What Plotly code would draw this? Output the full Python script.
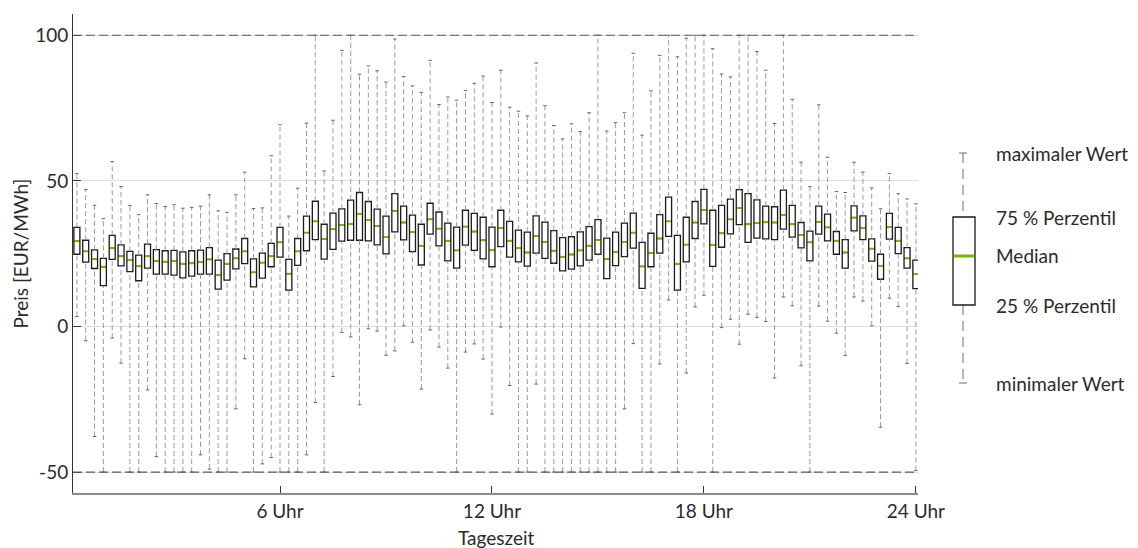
import plotly.graph_objects as go

# Viertelstunden des Tages (0:15 ... 24:00) in Stunden
viertelstunde = [i / 4 for i in range(1, 97)]

# Kennwerte je Viertelstunde in EUR/MWh
minimum = [3.4, -4.9, -37.8, -50, -4.0, -12.6, -50, -50, -21.8, -44.7, -50, -50,
           -50, -50, -44.1, -49.0, -50, -50, -28.3, -11.1, -50, -47.2, -45.0, -50,
           -50, -50, -44.1, -26.1, -50, -17.2, -2.1, -3.6, -26.9, -0.8, -1.6, -9.9,
           -8.4, 0.2, -5.4, -21.5, -1.2, -7.1, -14.3, -50, -8.8, -6.0, -11.2, -30.1,
           -0.2, -20.3, -50, -50, -19.8, -50, -50, -50, -50, -50, -50, -50,
           -50, -50, -28.3, -5.9, -50, -50, -12.9, 9.1, -50, -16.0, 6.7, 10.7,
           -50, -0.4, 2.5, -6.1, 4.2, 3.1, 1.7, -17.7, 10.1, 7.1, -13.5, -50,
           7.0, 1.8, -2.3, -10.0, 10.1, 8.7, 0.2, -34.6, 9.7, 6.8, -12.7, -49.5]
q1 = [24.8, 22.1, 19.9, 14.0, 23.0, 20.8, 18.8, 15.7, 20.0, 18.0, 18.0, 17.6,
      16.7, 17.3, 18.0, 18.0, 12.8, 15.9, 19.8, 21.6, 13.6, 16.6, 20.5, 23.8,
      12.5, 21.0, 26.0, 29.8, 23.1, 26.5, 29.3, 29.6, 29.6, 29.4, 28.0, 24.9,
      32.5, 29.7, 25.7, 21.1, 31.7, 27.7, 22.5, 20.0, 27.9, 26.1, 23.2, 20.5,
      27.4, 23.8, 22.2, 20.7, 25.2, 23.4, 21.7, 19.1, 19.7, 20.8, 22.8, 24.8,
      16.4, 20.9, 24.0, 26.9, 13.1, 20.5, 25.2, 30.9, 12.5, 22.2, 30.2, 35.2,
      20.6, 27.2, 31.8, 35.0, 28.9, 30.3, 30.1, 29.8, 33.4, 30.7, 27.0, 22.5,
      31.7, 29.4, 24.8, 20.0, 32.8, 29.8, 22.4, 16.2, 30.0, 25.0, 20.0, 13.0]
median = [29.3, 25.8, 23.1, 20.5, 26.9, 24.1, 22.8, 20.7, 24.1, 22.4, 22.2, 22.5,
          21.5, 21.7, 22.1, 23.0, 17.6, 21.5, 23.4, 25.8, 18.6, 21.9, 24.1, 28.9,
          18.1, 25.8, 32.2, 36.1, 30.0, 33.4, 34.8, 35.2, 38.6, 36.6, 34.5, 30.7,
          39.7, 35.7, 32.4, 27.7, 36.8, 33.6, 29.4, 26.1, 34.3, 32.6, 29.6, 26.2,
          33.8, 29.4, 26.9, 25.4, 31.0, 29.0, 26.0, 23.9, 24.7, 26.1, 27.7, 29.7,
          23.1, 25.5, 29.0, 32.2, 20.6, 25.2, 30.2, 36.1, 21.5, 28.1, 35.7, 40.0,
          28.0, 32.0, 36.8, 40.7, 35.1, 35.5, 35.8, 35.7, 38.3, 35.1, 31.4, 28.9,
          35.9, 34.0, 29.4, 25.4, 37.4, 33.8, 26.7, 20.8, 34.1, 29.4, 23.4, 18.0]
q3 = [34.0, 29.6, 26.3, 23.4, 31.3, 28.0, 25.8, 24.5, 28.3, 26.4, 26.0, 26.1,
      25.6, 26.0, 26.2, 27.1, 22.8, 25.0, 26.6, 30.2, 23.2, 25.2, 28.5, 34.0,
      23.0, 30.2, 37.9, 43.0, 35.1, 38.9, 40.4, 43.4, 46.0, 42.9, 40.3, 37.9,
      45.6, 41.3, 38.2, 35.1, 42.3, 39.3, 35.5, 34.1, 39.9, 38.8, 37.5, 34.1,
      39.9, 36.1, 33.1, 32.4, 38.0, 35.8, 32.9, 30.5, 30.8, 32.5, 34.3, 36.7,
      30.3, 32.4, 35.5, 38.9, 28.9, 32.0, 38.4, 44.4, 31.3, 37.5, 42.9, 47.1,
      39.9, 41.6, 43.7, 47.0, 45.6, 43.5, 41.3, 41.1, 46.8, 41.6, 35.7, 32.7,
      41.3, 38.6, 32.6, 29.8, 41.4, 38.0, 30.1, 24.8, 38.8, 34.0, 27.1, 22.8]
maximum = [52.5, 47.0, 41.6, 37.0, 56.6, 48.0, 41.5, 38.4, 45.2, 42.2, 41.2, 41.8,
           40.6, 40.9, 41.3, 45.2, 39.7, 39.2, 45.2, 53.0, 40.5, 40.7, 58.6, 69.3,
           37.9, 47.5, 69.8, 100, 53.4, 70.8, 94.8, 100, 86.6, 89.5, 87.8, 83.9,
           98.7, 85.8, 82.6, 80.4, 91.4, 76.2, 78.8, 77.7, 81.0, 83.5, 86.0, 76.9,
           88.0, 75.3, 73.9, 72.3, 90.5, 75.8, 69.0, 64.4, 69.6, 66.9, 73.4, 100,
           67.1, 70.0, 73.4, 93.8, 65.7, 80.9, 93.1, 100, 92.6, 99.0, 100, 100,
           95.4, 86.7, 85.7, 100, 100, 94.4, 88.0, 69.7, 100, 78.0, 56.4, 48.0,
           76.1, 58.1, 46.3, 46.0, 56.4, 53.0, 47.6, 40.4, 52.5, 45.6, 43.8, 42.1]

# Preisgrenzen (gestrichelte Linien)
preisgrenzen = [-50, 100]

y_ticks = [-50, 0, 50, 100]
y_ticktext = ["-50", "0", "50", "100"]
x_ticks = [6, 12, 18, 24]
x_ticktext = ["6 Uhr", "12 Uhr", "18 Uhr", "24 Uhr"]

legend_labels = ["maximaler Wert", "75 % Perzentil", "Median",
                 "25 % Perzentil", "minimaler Wert"]

FONT = "Lato"
FS = 19
TEXT = "#2b2b2b"
GREEN = "#76b900"
WHISKER = "#9a9a9a"

fig = go.Figure()

# Whisker: vom Minimum zum 25-%-Perzentil und vom 75-%-Perzentil zum Maximum
wx, wy = [], []
for h, lo, a, b, hi in zip(viertelstunde, minimum, q1, q3, maximum):
    wx += [h, h, None, h, h, None]
    wy += [lo, a, None, b, hi, None]
fig.add_trace(go.Scatter(
    x=wx, y=wy, mode="lines",
    line=dict(color=WHISKER, width=1, dash="5px,3px"),
    hoverinfo="skip", showlegend=False))

# Endstriche der Whisker
fig.add_trace(go.Scatter(
    x=viertelstunde + viertelstunde, y=minimum + maximum, mode="markers",
    marker=dict(symbol="line-ew", size=2.5, color="#666",
                line=dict(color="#666", width=1)),
    hoverinfo="skip", showlegend=False))

# Boxen (Interquartilsabstand)
fig.add_trace(go.Box(
    x=viertelstunde, q1=q1, median=median, q3=q3,
    lowerfence=q1, upperfence=q3,
    width=0.17, whiskerwidth=0, boxpoints=False,
    fillcolor="white", line=dict(color="#1a1a1a", width=1.3),
    hoverinfo="skip", showlegend=False))

# Median in Grün
fig.add_trace(go.Scatter(
    x=viertelstunde, y=median, mode="markers",
    marker=dict(symbol="line-ew", size=3.2, color=GREEN,
                line=dict(color=GREEN, width=2)),
    hoverinfo="skip", showlegend=False))

shapes = []
for g in preisgrenzen:
    shapes.append(dict(type="line", xref="paper", yref="y", x0=0, x1=1,
                       y0=g, y1=g, layer="above",
                       line=dict(color="#5a5a5a", width=1.2, dash="9px,4px")))

# Legende: schematische Box rechts neben dem Diagramm
def px_x(px):
    return (px - 73) / 845

def px_y(py):
    return (493 - py) / 479

lx, lx0, lx1 = 963, 953, 975
y_max, y_q3, y_med, y_q1, y_min = 153, 217, 256, 305, 383
shapes += [
    dict(type="line", xref="paper", yref="paper", x0=px_x(lx), x1=px_x(lx),
         y0=px_y(y_max), y1=px_y(y_q3),
         line=dict(color="#6a6a6a", width=1, dash="10px,6px")),
    dict(type="line", xref="paper", yref="paper", x0=px_x(lx), x1=px_x(lx),
         y0=px_y(y_q1), y1=px_y(y_min),
         line=dict(color="#6a6a6a", width=1, dash="10px,6px")),
    dict(type="line", xref="paper", yref="paper", x0=px_x(lx - 4), x1=px_x(lx + 4),
         y0=px_y(y_max), y1=px_y(y_max), line=dict(color="#6a6a6a", width=1)),
    dict(type="line", xref="paper", yref="paper", x0=px_x(lx - 4), x1=px_x(lx + 4),
         y0=px_y(y_min), y1=px_y(y_min), line=dict(color="#6a6a6a", width=1)),
    dict(type="rect", xref="paper", yref="paper", x0=px_x(lx0), x1=px_x(lx1),
         y0=px_y(y_q1), y1=px_y(y_q3), fillcolor="white",
         line=dict(color="#1a1a1a", width=1.3)),
    dict(type="line", xref="paper", yref="paper", x0=px_x(lx0 + 1), x1=px_x(lx1 - 1),
         y0=px_y(y_med), y1=px_y(y_med), line=dict(color=GREEN, width=3)),
]

annotations = []
for label, py in zip(legend_labels, [y_max, y_q3, y_med, y_q1, y_min]):
    annotations.append(dict(text=label, xref="paper", yref="paper",
                            x=px_x(994), y=px_y(py), xanchor="left",
                            yanchor="middle", showarrow=False,
                            font=dict(family=FONT, size=FS, color=TEXT)))

# Achsentitel
annotations.append(dict(text="Preis [EUR/MWh]", xref="paper", yref="paper",
                        x=px_x(20), y=0.5, textangle=-90,
                        xanchor="center", yanchor="middle", showarrow=False,
                        font=dict(family=FONT, size=FS, color=TEXT)))
annotations.append(dict(text="Tageszeit", xref="paper", yref="paper",
                        x=0.5, y=px_y(537), xanchor="center",
                        yanchor="middle", showarrow=False,
                        font=dict(family=FONT, size=FS, color=TEXT)))

fig.update_layout(
    width=1138, height=548,
    margin=dict(l=73, r=220, t=14, b=55),
    paper_bgcolor="white", plot_bgcolor="white",
    font=dict(family=FONT, size=FS, color=TEXT),
    shapes=shapes, annotations=annotations,
    showlegend=False,
    xaxis=dict(
        range=[0.14, 24.06], tickvals=x_ticks, ticktext=x_ticktext,
        ticks="inside", ticklen=7, tickcolor="#333", tickwidth=1,
        showgrid=False, zeroline=False, automargin=False,
        showline=True, linecolor="#8c8c8c", linewidth=1.5,
    ),
    yaxis=dict(
        range=[-57.2, 107.3], tickvals=y_ticks, ticktext=y_ticktext,
        ticks="inside", ticklen=8, tickcolor="#333", tickwidth=1,
        showgrid=True, gridcolor="#dedede", gridwidth=1, zeroline=False,
        automargin=False,
        showline=True, linecolor="#333", linewidth=1,
    ),
)

fig.write_html("out.html")
